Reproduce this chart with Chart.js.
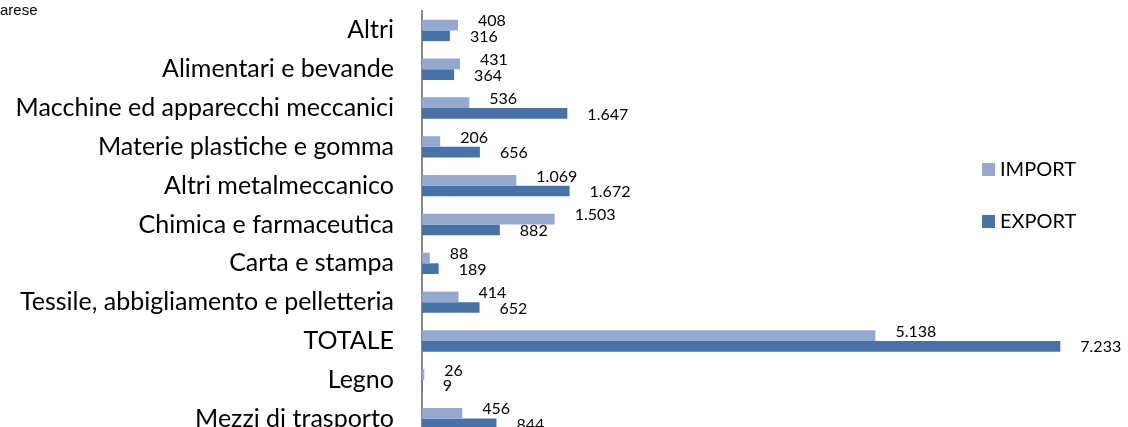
<!DOCTYPE html>
<html>
<head>
<meta charset="utf-8">
<script src="https://cdn.jsdelivr.net/npm/chart.js@4/dist/chart.umd.min.js"></script>
<style>
  html, body { margin:0; padding:0; background:#fff; overflow:hidden; }
  #wrap { position:relative; width:1128px; height:427px; overflow:hidden; }
  #title { position:absolute; left:0; top:1px; font:15px "Liberation Sans", Arial, sans-serif; color:#000; }
  #chart { position:absolute; left:0; top:1px; }
</style>
</head>
<body>
<div id="wrap">
  <canvas id="chart" width="1128" height="447"></canvas>
  <div id="title">arese</div>
</div>
<script>
const categories = [
    "Altri",
    "Alimentari e bevande",
    "Macchine ed apparecchi meccanici",
    "Materie plastiche e gomma",
    "Altri metalmeccanico",
    "Chimica e farmaceutica",
    "Carta e stampa",
    "Tessile, abbigliamento e pelletteria",
    "TOTALE",
    "Legno",
    "Mezzi di trasporto"
];
const importValues = [408, 431, 536, 206, 1069, 1503, 88, 414, 5138, 26, 456];
const exportValues = [316, 364, 1647, 656, 1672, 882, 189, 652, 7233, 9, 844];

const IMPORT_COLOR = "#95A9D0";
const EXPORT_COLOR = "#4672A8";
const FONT_FAMILY = 'Lato, "Open Sans", sans-serif';

// italian thousands separator: 1647 -> 1.647
function fmt(v){
    return String(Math.round(v)).replace(/\B(?=(\d{3})+(?!\d))/g, ".");
}

// value labels to the right of each bar (like the excel original)
const valueLabels = {
    id: "valueLabels",
    afterDatasetsDraw(chart){
        const ctx = chart.ctx;
        ctx.save();
        ctx.font = "16px " + FONT_FAMILY;
        ctx.fillStyle = "#000";
        ctx.textBaseline = "middle";
        ctx.textAlign = "left";
        chart.data.datasets.forEach((ds, di) => {
            const meta = chart.getDatasetMeta(di);
            const dy = di === 0 ? -4 : 1;
            meta.data.forEach((bar, i) => {
                ctx.fillText(fmt(ds.data[i]), bar.x + 20, bar.y + dy);
            });
        });
        ctx.restore();
    }
};

// legend drawn inside the plot area on the right
const sideLegend = {
    id: "sideLegend",
    afterDraw(chart){
        const ctx = chart.ctx;
        ctx.save();
        ctx.font = "20px " + FONT_FAMILY;
        ctx.textBaseline = "middle";
        const rows = [169, 221];
        chart.data.datasets.forEach((ds, i) => {
            ctx.fillStyle = ds.backgroundColor;
            ctx.fillRect(982, rows[i] - 7, 13, 13);
            ctx.fillStyle = "#000";
            ctx.fillText(ds.label, 1000, rows[i]);
        });
        ctx.restore();
    }
};

new Chart(document.getElementById("chart"), {
    type: "bar",
    data: {
        labels: categories,
        datasets: [
            {label: "IMPORT", data: importValues, backgroundColor: IMPORT_COLOR},
            {label: "EXPORT", data: exportValues, backgroundColor: EXPORT_COLOR}
        ]
    },
    options: {
        indexAxis: "y",
        responsive: false,
        animation: false,
        layout: {padding: 0},
        categoryPercentage: 0.55,
        barPercentage: 1.0,
        plugins: {legend: {display: false}, tooltip: {enabled: false}},
        scales: {
            x: {display: false, min: 0, max: 8000},
            y: {
                grid: {display: false, drawTicks: true, tickLength: 28},
                border: {display: true, color: "#888", width: 2},
                ticks: {
                    color: "#000",
                    padding: 0,
                    font: {family: FONT_FAMILY, size: 25, lineHeight: 0.8}
                },
                afterFit(scale){ scale.width = 422; }
            }
        }
    },
    plugins: [valueLabels, sideLegend]
});
</script>
</body>
</html>
